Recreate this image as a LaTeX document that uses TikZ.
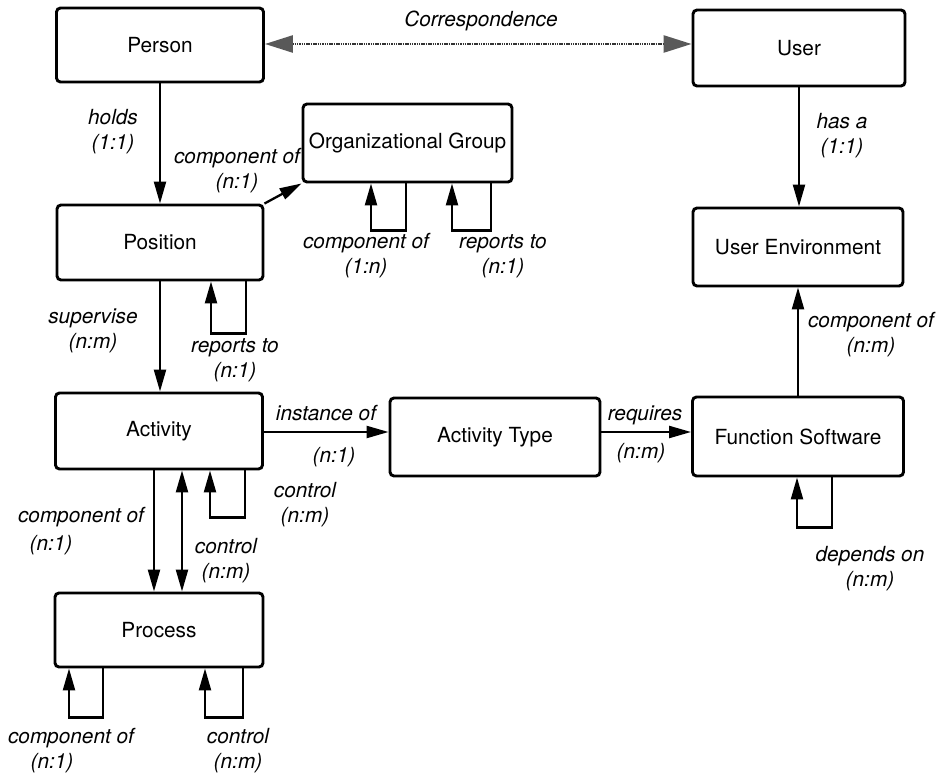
\documentclass[tikz,border=0pt]{standalone}
\usepackage{fontspec}
\setmainfont{TeX Gyre Heros}
\usetikzlibrary{arrows.meta,calc}

% self-referencing relation: leaves the box bottom at dx #3, drops #4, returns up at dx #2
\newcommand{\selfrel}[4]{%
  \draw[rel] ($(#1.south)+(#3,0)$) -- ++(0,#4) -| ($(#1.south)+(#2,0)$);}

\begin{document}
\begin{tikzpicture}[x=1pt,y=-1pt,
  entity/.style={draw, line width=2.9pt, rounded corners=4pt, inner sep=0pt,
    font=\fontsize{20.8}{24}\selectfont},
  rel/.style={line width=2.3pt, -{Triangle[length=22pt,width=12pt]}},
  corr/.style={line width=2.6pt, draw=black!80, dash pattern=on 1.5pt off 0.8pt,
    {Triangle[length=28pt,width=17pt,color=black!65,fill=black!65]}-{Triangle[length=28pt,width=17pt,color=black!65,fill=black!65]}},
  lbl/.style={font=\fontsize{20.8}{25}\selectfont\itshape, align=center, inner sep=0pt}]

\useasboundingbox (0,0) rectangle (942,775);

% entity boxes
\node[entity, minimum width=207pt, minimum height=74pt] (person)   at (160,45)    {Person};
\node[entity, minimum width=212pt, minimum height=76pt] (user)     at (799,48)    {User};
\node[entity, minimum width=209pt, minimum height=78pt] (org)      at (407.5,143) {Organizational Group};
\node[entity, minimum width=206pt, minimum height=75pt] (position) at (160,242.5) {Position};
\node[entity, minimum width=210pt, minimum height=78pt] (ue)       at (798,247)   {User Environment};
\node[entity, minimum width=207pt, minimum height=76pt] (activity) at (159,431)   {Activity};
\node[entity, minimum width=210pt, minimum height=78pt] (acttype)  at (495,437)   {Activity Type};
\node[entity, minimum width=211pt, minimum height=79pt] (fs)       at (798,436.5) {Function Software};
\node[entity, minimum width=208pt, minimum height=74pt] (process)  at (159,630)   {Process};

% correspondence between person and user
\coordinate (cs) at ($(person.east)+(0,-1)$);
\draw[corr] (cs) -- (cs -| user.west);
\node[lbl] (lcorr) at (481,21) {Correspondence};

% relations between entities
\draw[rel] (person.south) -- (position.north);
\node[lbl] (lholds) at (113,132) {holds\\(1:1)};

\draw[rel] (position.north east) -- (org.south west);
\node[lbl] (lposorg) at (237,171) {component of\\(n:1)};

\draw[rel] (user.south) -- (user.south |- ue.north);
\node[lbl] (lhas) at (842,136) {has a\\(1:1)};

\draw[rel] (position.south) -- (position.south |- activity.north);
\node[lbl] (lsup) at (93,331) {supervise\\(n:m)};

\draw[rel] (fs.north) -- (fs.north |- ue.south);
\node[lbl] (lfsue) at (871,335) {component of\\(n:m)};

\coordinate (ia) at ($(activity.east)+(0,1)$);
\draw[rel] (ia) -- (ia -| acttype.west);
\node[lbl] (linst) at (326,413) {instance of};
\node[lbl] (linstc) at (334,457) {(n:1)};

\coordinate (rq) at ($(acttype.east)+(0,-5)$);
\draw[rel] (rq) -- (rq -| fs.west);
\node[lbl] (lreq) at (645,415) {requires};
\node[lbl] (lreqc) at (641,453) {(n:m)};

\coordinate (ap1) at ($(activity.south)+(-5,0)$);
\coordinate (ap2) at ($(activity.south)+(23,0)$);
\draw[rel] (ap1) -- (ap1 |- process.north);
\draw[rel, {Triangle[length=22pt,width=12pt]}-{Triangle[length=22pt,width=12pt]}] (ap2) -- (ap2 |- process.north);
\node[lbl] (lapc) at (81,517) {component of};
\node[lbl] (lapcc) at (51,545) {(n:1)};
\node[lbl] (lapk) at (226,561) {control\\(n:m)};

% self-referencing relations
\selfrel{org}{-36.5}{-1.5}{47}
\node[lbl] (lorgc) at (366,256) {component of\\(1:n)};
\selfrel{org}{44.5}{83.5}{47}
\node[lbl] (lorgr) at (503,256) {reports to\\(n:1)};

\selfrel{position}{51}{86}{52}
\node[lbl] (lposr) at (235,360) {reports to\\(n:1)};

\selfrel{activity}{51}{86}{47}
\node[lbl] (lactk) at (305,505) {control\\(n:m)};

\selfrel{process}{-90}{-56}{49}
\node[lbl] (lproc) at (71,738) {component of};
\node[lbl] (lprocc) at (52,763) {(n:1)};
\selfrel{process}{46}{84}{49}
\node[lbl] (lprok) at (238,751) {control\\(n:m)};

\selfrel{fs}{-1}{34}{50}
\node[lbl] (lfsd) at (870,569) {depends on\\(n:m)};

\end{tikzpicture}
\end{document}
